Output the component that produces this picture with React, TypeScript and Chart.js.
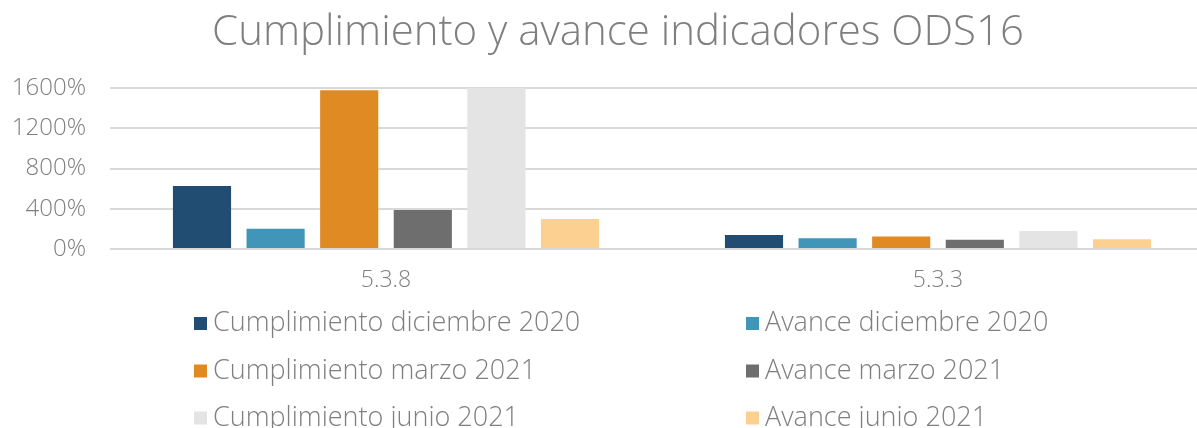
import React, { useEffect, useRef } from "react";
import { Chart, registerables } from "chart.js";
Chart.register(...registerables);

const title = "Cumplimiento y avance indicadores ODS16";
const categories = ["5.3.8", "5.3.3"];
const seriesNames = [
  "Cumplimiento diciembre 2020",
  "Avance diciembre 2020",
  "Cumplimiento marzo 2021",
  "Avance marzo 2021",
  "Cumplimiento junio 2021",
  "Avance junio 2021",
];
const seriesColors = ["#214d72", "#4095b8", "#e08a24", "#6e6e6e", "#e4e4e4", "#fbd090"];
const cumplimientoDic2020 = [627, 138];
const avanceDic2020 = [202, 108];
const cumplimientoMar2021 = [1577, 124];
const avanceMar2021 = [388, 91];
const cumplimientoJun2021 = [1700, 178];
const avanceJun2021 = [299, 97];
const seriesValues = [
  cumplimientoDic2020,
  avanceDic2020,
  cumplimientoMar2021,
  avanceMar2021,
  cumplimientoJun2021,
  avanceJun2021,
];
const yTicks = [0, 400, 800, 1200, 1600];

const FONT = "'Open Sans', sans-serif";
const TEXT = "#7f7f7f";

const titleAndLegend = {
  id: "titleAndLegend",
  afterDraw(chart: any) {
    const ctx = chart.ctx;
    ctx.save();
    ctx.fillStyle = TEXT;
    ctx.font = `300 42px ${FONT}`;
    ctx.textAlign = "center";
    ctx.textBaseline = "middle";
    ctx.fillText(title, 618, 33);

    const colX = [194, 746];
    const rowY = [323.5, 371, 418];
    ctx.font = `300 27px ${FONT}`;
    ctx.textAlign = "left";
    chart.data.datasets.forEach((ds: any, i: number) => {
      const x = colX[i % 2];
      const y = rowY[Math.floor(i / 2)];
      ctx.fillStyle = ds.backgroundColor;
      ctx.fillRect(x, y - 6.5, 13, 13);
      ctx.fillStyle = TEXT;
      ctx.fillText(ds.label, x + 19, y);
    });
    ctx.restore();
  },
};

export default function App() {
  const ref = useRef<HTMLCanvasElement | null>(null);
  useEffect(() => {
    document.body.style.margin = "0";
    if (!ref.current) return;
    const chart = new Chart(ref.current, {
      type: "bar",
      data: {
        labels: categories,
        datasets: seriesNames.map((name, i) => ({
          label: name,
          data: seriesValues[i],
          backgroundColor: seriesColors[i],
          categoryPercentage: 0.8,
          barPercentage: 0.79,
        })),
      },
      options: {
        animation: false,
        responsive: false,
        maintainAspectRatio: false,
        layout: { padding: { top: 88, left: 8, right: 0, bottom: 135 } },
        plugins: {
          legend: { display: false },
          tooltip: { enabled: false },
          title: { display: false },
        },
        scales: {
          x: {
            afterFit: (s: any) => {
              s.height = 44;
            },
            grid: { display: false, drawTicks: false },
            border: { display: false },
            ticks: { color: TEXT, font: { family: FONT, size: 23, weight: "300" as any }, padding: 18 },
          },
          y: {
            min: 0,
            max: 1600,
            afterFit: (s: any) => {
              s.width = 102;
            },
            afterBuildTicks: (s: any) => {
              s.ticks = yTicks.map((v) => ({ value: v }));
            },
            grid: { color: "#d9d9d9", lineWidth: 2, drawTicks: false },
            border: { display: false },
            ticks: {
              color: TEXT,
              font: { family: FONT, size: 24, weight: "300" as any },
              padding: 24,
              callback: (v: any) => `${v}%`,
            },
          },
        },
      },
      plugins: [titleAndLegend],
    });
    return () => chart.destroy();
  }, []);
  return (
    <div style={{ width: 1197, height: 428, overflow: "hidden" }}>
      <canvas ref={ref} width={1214} height={428} style={{ display: "block" }} />
    </div>
  );
}
